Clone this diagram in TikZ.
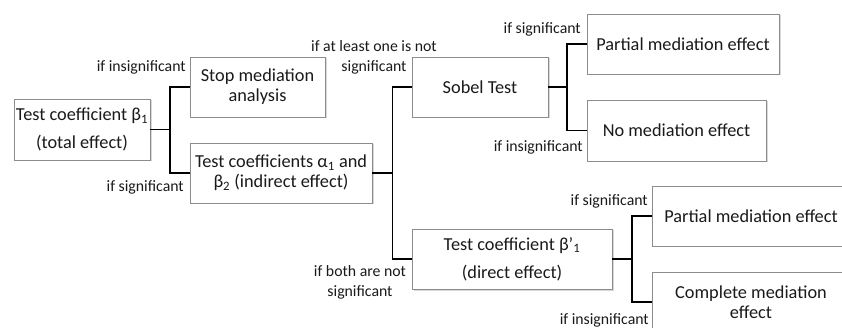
\documentclass[tikz,border=0pt]{standalone}
\usepackage{fontspec}
\setmainfont{Carlito}
\usetikzlibrary{shadows}
\definecolor{txt}{HTML}{1A1A1A}
\definecolor{bord}{HTML}{8C8C8C}
\begin{document}
\begin{tikzpicture}[x=1pt,y=1pt,
  box/.style={draw=bord, line width=0.8pt, fill=white, align=center, text=txt,
    font=\fontsize{18.3}{20}\selectfont, inner sep=0pt,
    drop shadow={shadow xshift=1.5pt, shadow yshift=-1.5pt, opacity=0.25, fill=black!60}},
  wide/.style={font=\fontsize{18.3}{28}\selectfont},
  lbl/.style={text=txt, font=\fontsize{15.8}{20}\selectfont, inner sep=0pt, align=center},
  conn/.style={line width=1.8pt, black}]
\clip (0,0) rectangle (842,-328);
\fill[white] (0,0) rectangle (842,-328);
% boxes
\node[box, wide, minimum width=136, minimum height=61] (A) at (82,-129.5) {Test coefficient β\textsubscript{1}\\(total effect)};
\node[box, minimum width=135, minimum height=60] (B) at (257.5,-87) {Stop mediation\\analysis};
\node[box, minimum width=182, minimum height=60] (C) at (281,-173) {Test coefficients α\textsubscript{1} and\\β\textsubscript{2} (indirect effect)};
\node[box, minimum width=136, minimum height=60] (D) at (480,-87) {Sobel Test};
\node[box, wide, minimum width=200, minimum height=60] (E) at (512,-259) {Test coefficient β’\textsubscript{1}\\(direct effect)};
\node[box, minimum width=192, minimum height=60] (F) at (683,-44) {Partial mediation effect};
\node[box, minimum width=179, minimum height=61] (G) at (676.5,-130.5) {No mediation effect};
\node[box, minimum width=198, minimum height=60] (H) at (751,-216) {Partial mediation effect};
\node[box, minimum width=198, minimum height=60] (K) at (751,-302) {Complete mediation\\effect};
% junctions
\coordinate (j1) at (170,-129.5);
\coordinate (j2) at (392.5,-173);
\coordinate (j3) at (567,-87);
\coordinate (j4) at (632,-259);
% connectors
\draw[conn] (A.east) -- (j1);
\draw[conn] (B.west) -| (j1) |- (C.west);
\draw[conn] (C.east) -- (j2);
\draw[conn] (D.west) -| (j2) |- (E.west);
\draw[conn] (D.east) -- (j3);
\draw[conn] (F.west) -| (j3) |- (G.west);
\draw[conn] (E.east) -- (j4);
\draw[conn] (H.west) -| (j4) |- (K.west);
% labels
\node[lbl, anchor=east] (l1) at (186,-67) {if insignificant};
\node[lbl, anchor=east] (l2) at (184,-187) {if significant};
\node[lbl] (l3) at (374,-57) {if at least one is not\\significant};
\node[lbl, anchor=east] (l4) at (581,-29) {if significant};
\node[lbl, anchor=east] (l5) at (583,-147) {if insignificant};
\node[lbl] (l6) at (360,-282) {if both are not\\significant};
\node[lbl, anchor=east] (l7) at (648,-201) {if significant};
\node[lbl, anchor=east] (l8) at (649,-320) {if insignificant};
\end{tikzpicture}
\end{document}
